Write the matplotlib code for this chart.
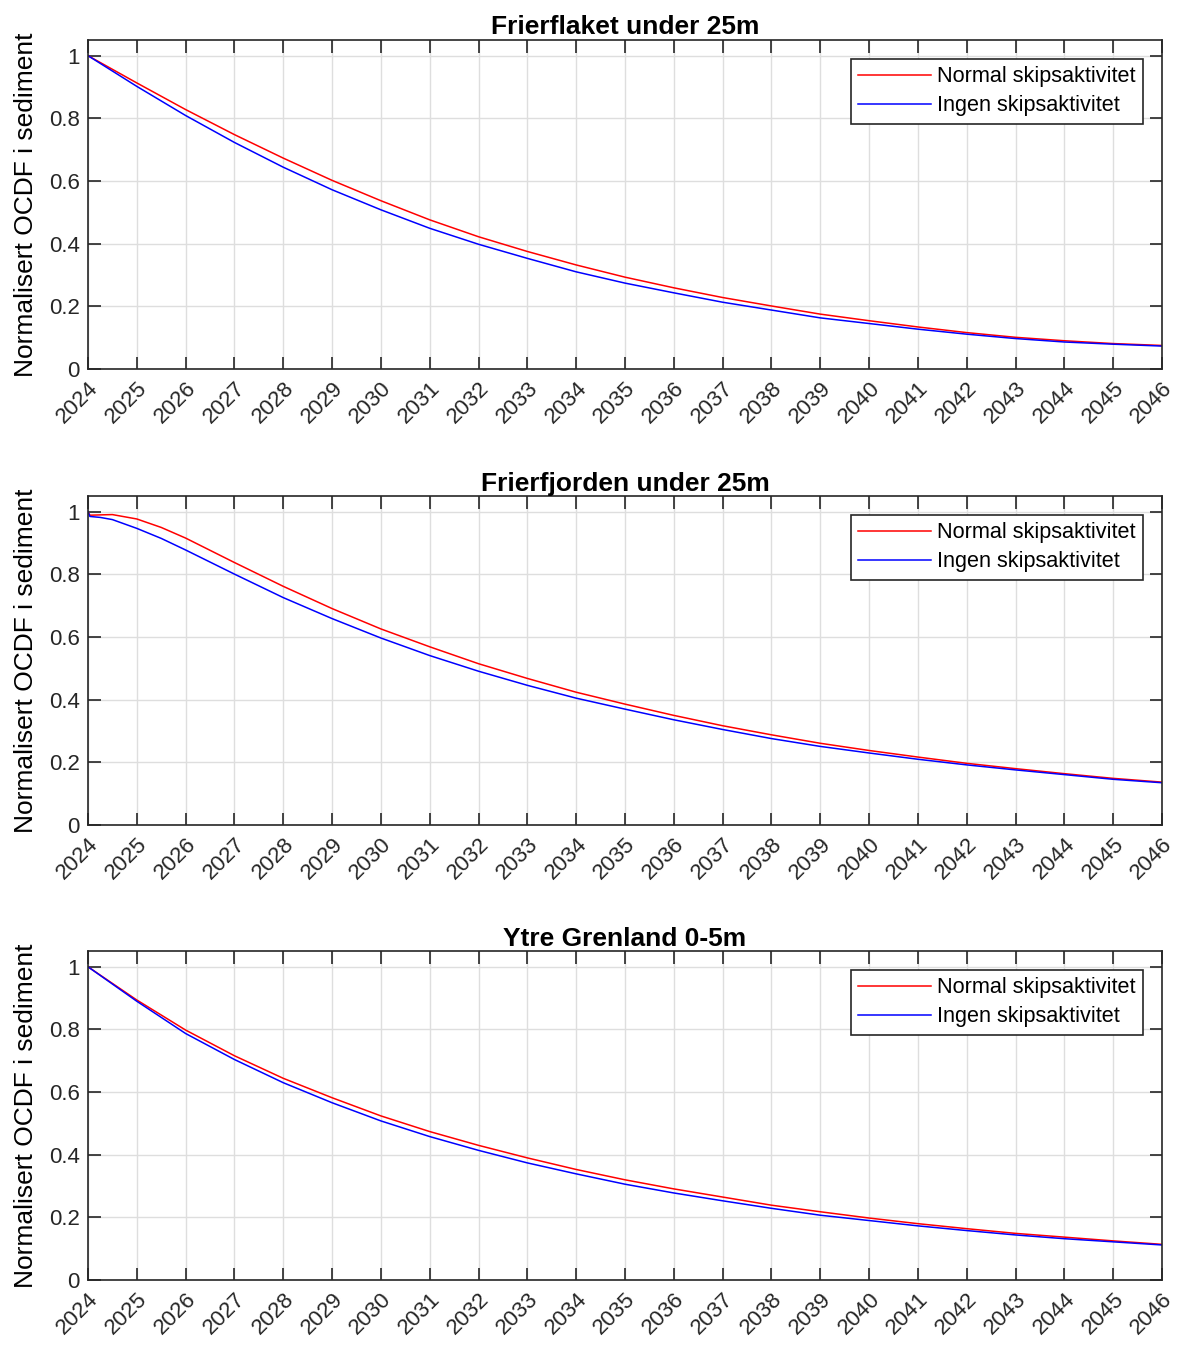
import matplotlib
matplotlib.use("Agg")
import matplotlib.pyplot as plt
from matplotlib.ticker import FormatStrFormatter

plt.rcParams["font.family"] = ["Liberation Sans", "DejaVu Sans"]

# Years for each panel (extra points in the first year where curves bend)
years_flaket = [2024, 2025, 2026, 2027, 2028, 2029, 2030, 2031, 2032, 2033, 2034, 2035,
                2036, 2037, 2038, 2039, 2040, 2041, 2042, 2043, 2044, 2045, 2046]
flaket_normal = [1.0, 0.913, 0.828, 0.748, 0.673, 0.602, 0.537, 0.476, 0.422, 0.375, 0.332, 0.293,
                 0.259, 0.228, 0.201, 0.175, 0.154, 0.134, 0.116, 0.101, 0.090, 0.081, 0.075]
flaket_ingen = [1.0, 0.902, 0.809, 0.723, 0.644, 0.572, 0.508, 0.449, 0.398, 0.353, 0.310, 0.274,
                0.243, 0.213, 0.188, 0.163, 0.145, 0.127, 0.111, 0.097, 0.086, 0.079, 0.073]

years_fjorden = [2024, 2024.04, 2024.25, 2024.5, 2025, 2025.5, 2026, 2027, 2028, 2029, 2030, 2031,
                 2032, 2033, 2034, 2035, 2036, 2037, 2038, 2039, 2040, 2041, 2042, 2043,
                 2044, 2045, 2046]
fjorden_normal = [1.0, 0.989, 0.990, 0.991, 0.977, 0.950, 0.916, 0.838, 0.762, 0.691, 0.626, 0.569,
                  0.515, 0.468, 0.424, 0.386, 0.350, 0.317, 0.288, 0.261, 0.238, 0.217, 0.197, 0.180,
                  0.164, 0.149, 0.137]
fjorden_ingen = [1.0, 0.985, 0.982, 0.975, 0.947, 0.915, 0.878, 0.801, 0.726, 0.659, 0.597, 0.541,
                 0.491, 0.446, 0.405, 0.370, 0.336, 0.305, 0.276, 0.251, 0.230, 0.210, 0.192, 0.176,
                 0.161, 0.146, 0.135]

years_ytre = years_flaket
ytre_normal = [1.0, 0.894, 0.798, 0.716, 0.644, 0.582, 0.524, 0.474, 0.430, 0.390, 0.353, 0.320,
               0.291, 0.265, 0.239, 0.218, 0.198, 0.180, 0.164, 0.149, 0.137, 0.125, 0.114]
ytre_ingen = [1.0, 0.890, 0.787, 0.704, 0.630, 0.566, 0.508, 0.458, 0.414, 0.374, 0.339, 0.306,
              0.278, 0.253, 0.229, 0.207, 0.190, 0.173, 0.158, 0.144, 0.132, 0.122, 0.112]

panels = [
    ("Frierflaket under 25m", years_flaket, flaket_normal, flaket_ingen),
    ("Frierfjorden under 25m", years_fjorden, fjorden_normal, fjorden_ingen),
    ("Ytre Grenland 0-5m", years_ytre, ytre_normal, ytre_ingen),
]

year_ticks = list(range(2024, 2047))
bottoms = [0.7261, 0.3875, 0.0497]

fig = plt.figure(figsize=(11.84, 13.47), dpi=100)
edge = "#262626"

for (title, yrs, normal, ingen), b in zip(panels, bottoms):
    ax = fig.add_axes([0.0743, b, 0.9071, 0.2442])
    ax.plot(yrs, normal, color="red", lw=1.1, label="Normal skipsaktivitet")
    ax.plot(yrs, ingen, color="blue", lw=1.1, label="Ingen skipsaktivitet")
    ax.set_xlim(2024, 2046)
    ax.set_ylim(0, 1.05)
    ax.set_xticks(year_ticks)
    ax.set_xticklabels([str(y) for y in year_ticks], rotation=45, ha="right",
                       rotation_mode="anchor")
    ax.set_yticks([0, 0.2, 0.4, 0.6, 0.8, 1.0])
    ax.yaxis.set_major_formatter(FormatStrFormatter("%g"))
    ax.tick_params(direction="in", top=True, right=True, length=9, width=1.2,
                   color=edge, labelsize=16, labelcolor="#262626", pad=6)
    ax.grid(True, color="#dedede", lw=1.0)
    ax.set_axisbelow(True)
    for s in ax.spines.values():
        s.set_color(edge)
        s.set_linewidth(1.2)
    ax.set_title(title, fontsize=19, fontweight="bold", pad=4)
    ax.set_ylabel("Normalisert OCDF i sediment", fontsize=19, labelpad=8)
    leg = ax.legend(loc="upper right", bbox_to_anchor=(1 - 19 / 1074, 1 - 19 / 329),
                    borderaxespad=0, fancybox=False, edgecolor=edge, fontsize=15.6,
                    handlelength=3.37, handletextpad=0.28, labelspacing=0.38,
                    borderpad=0.33, framealpha=1)
    leg.get_frame().set_linewidth(1.2)

fig.savefig("out.png", dpi=100)
